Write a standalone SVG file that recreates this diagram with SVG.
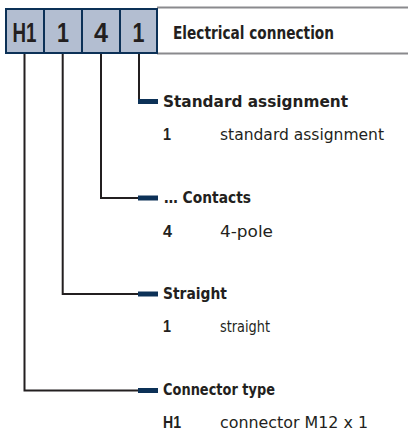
<svg xmlns="http://www.w3.org/2000/svg" width="409" height="434" viewBox="0 0 409 434">
<style>
.t{font-family:"DejaVu Sans Condensed","DejaVu Sans","Liberation Sans",sans-serif;font-stretch:condensed;fill:#231f20}
.c{font-family:"Liberation Sans",Arial,sans-serif;font-weight:bold;fill:#231f20}
.b{font-weight:bold}
.h{font-size:16.5px;font-weight:bold}
.v{font-size:16px}
.k{font-size:17px}
.cell{fill:#b3bed1;stroke:#0c3157;stroke-width:2}
.ln{fill:none;stroke:#231f20;stroke-width:2}
.bar{stroke:#0c3157;stroke-width:5}
.gl{stroke:#8a8a8d;stroke-width:2}
</style>
<rect width="409" height="434" fill="#ffffff"/>
<g id="header">
<line class="gl" x1="157" y1="7.5" x2="408" y2="7.5"/>
<line class="gl" x1="157" y1="53.5" x2="408" y2="53.5"/>
<rect class="cell" x="6" y="9" width="38" height="44"/>
<rect class="cell" x="44" y="9" width="38" height="44"/>
<rect class="cell" x="82" y="9" width="38" height="44"/>
<rect class="cell" x="120" y="9" width="37" height="44"/>
<text class="c" x="24.5" y="41.5" font-size="27" text-anchor="middle" textLength="24" lengthAdjust="spacingAndGlyphs">H1</text>
<text class="c" x="63" y="41.5" font-size="27" text-anchor="middle" textLength="12" lengthAdjust="spacingAndGlyphs">1</text>
<text class="c" x="101" y="41.5" font-size="27" text-anchor="middle" textLength="14" lengthAdjust="spacingAndGlyphs">4</text>
<text class="c" x="138.5" y="41.5" font-size="27" text-anchor="middle" textLength="12" lengthAdjust="spacingAndGlyphs">1</text>
<text class="t b" x="173" y="38.5" font-size="18.5" textLength="161" lengthAdjust="spacingAndGlyphs">Electrical connection</text>
</g>
<g id="connectors">
<polyline class="ln" points="139,54 139,101.5"/>
<polyline class="ln" points="101,54 101,198 139,198"/>
<polyline class="ln" points="62.7,54 62.7,294 139,294"/>
<polyline class="ln" points="24.5,54 24.5,390.5 139,390.5"/>
<line class="bar" x1="138" y1="101.5" x2="158" y2="101.5"/>
<line class="bar" x1="138" y1="198" x2="158" y2="198"/>
<line class="bar" x1="138" y1="294" x2="158" y2="294"/>
<line class="bar" x1="138" y1="390.5" x2="158" y2="390.5"/>
</g>
<g id="standard-assignment">
<text class="t h" x="163" y="106.5" textLength="185" lengthAdjust="spacingAndGlyphs">Standard assignment</text>
<text class="c k" x="163" y="140" textLength="8" lengthAdjust="spacingAndGlyphs">1</text>
<text class="t v" x="220" y="140" textLength="164" lengthAdjust="spacingAndGlyphs">standard assignment</text>
</g>
<g id="contacts">
<text class="t h" x="164" y="202.5" textLength="87" lengthAdjust="spacingAndGlyphs">… Contacts</text>
<text class="c k" x="163" y="236.5" textLength="9" lengthAdjust="spacingAndGlyphs">4</text>
<text class="t v" x="220" y="236.5" textLength="53" lengthAdjust="spacingAndGlyphs">4-pole</text>
</g>
<g id="straight">
<text class="t h" x="163" y="298.5" textLength="64" lengthAdjust="spacingAndGlyphs">Straight</text>
<text class="c k" x="163" y="332" textLength="8" lengthAdjust="spacingAndGlyphs">1</text>
<text class="t v" x="220" y="332" textLength="50" lengthAdjust="spacingAndGlyphs">straight</text>
</g>
<g id="connector-type">
<text class="t h" x="163" y="394.5" textLength="112" lengthAdjust="spacingAndGlyphs">Connector type</text>
<text class="c k" x="163" y="428" textLength="18" lengthAdjust="spacingAndGlyphs">H1</text>
<text class="t v" x="220" y="428" textLength="148" lengthAdjust="spacingAndGlyphs">connector M12 x 1</text>
</g>
</svg>
